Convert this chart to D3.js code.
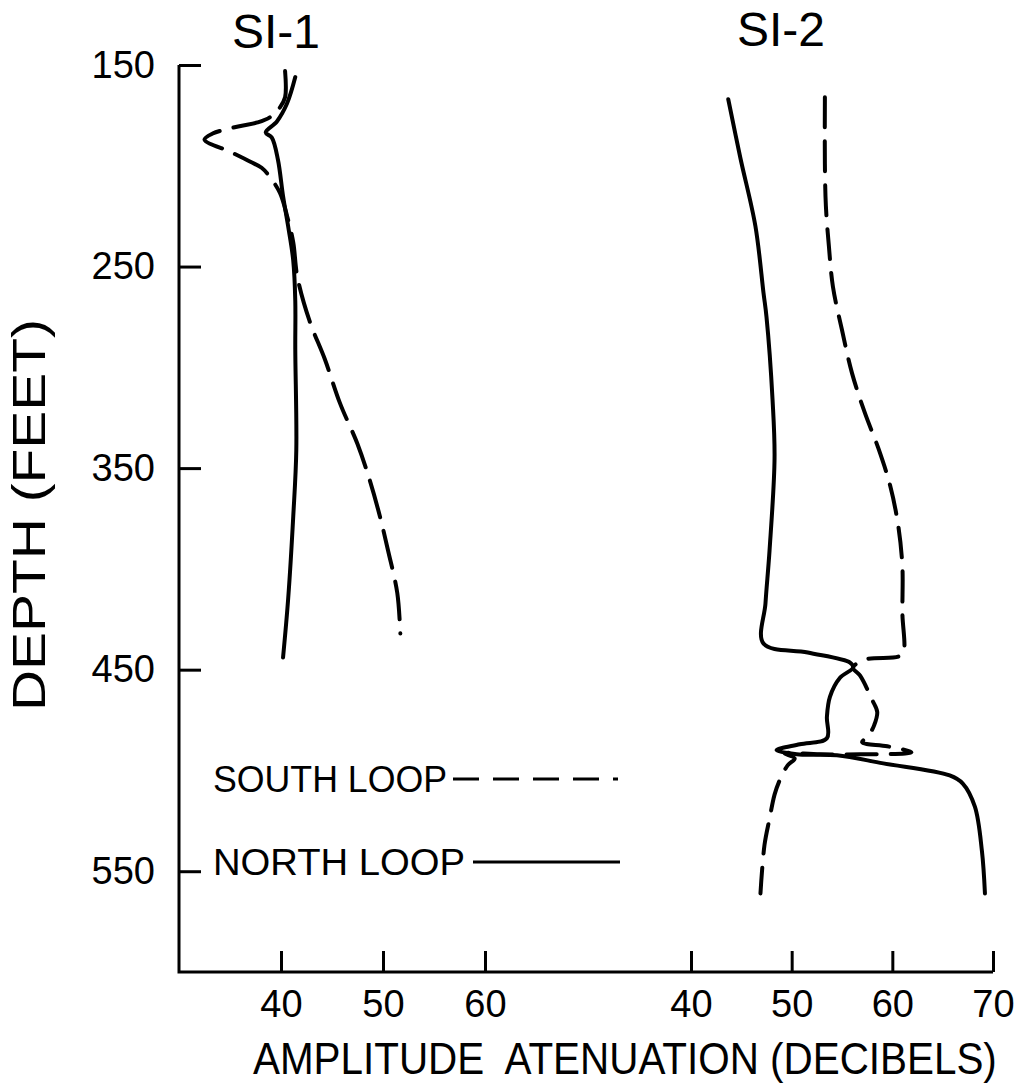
<!DOCTYPE html>
<html>
<head>
<meta charset="utf-8">
<script src="https://cdn.jsdelivr.net/npm/d3@7/dist/d3.min.js"></script>
<style>
  body { margin: 0; background: #fff; }
  text { font-family: "Liberation Sans", Arial, sans-serif; fill: #000; }
</style>
</head>
<body>
<div id="chart"></div>
<script>
// depth ticks (feet) and attenuation ticks (dB) for the two panels
var depthTicks = [150, 250, 350, 450, 550];
var si1Ticks = [40, 50, 60];
var si2Ticks = [40, 50, 60, 70];
var panelNames = ["SI-1", "SI-2"];

// [decibels, depth]
var si1North = [
  [41.4, 156], [40.6, 169], [39.6, 178], [38.5, 183.5], [39.1, 186], [39.7, 197],
  [40.2, 215], [40.7, 230], [41.2, 247], [41.4, 267], [41.4, 291], [41.5, 341],
  [41.2, 374], [40.7, 415], [40.2, 444]
];
var si1South = [
  [40.4, 153], [40.4, 166], [39.9, 171], [38.9, 176], [37.7, 178.5], [35.8, 180.5],
  [33.3, 184], [32.5, 187], [35.0, 193], [37.0, 198], [38.1, 201], [38.9, 205.5],
  [39.9, 213.5], [40.6, 225], [41.2, 238], [41.6, 255], [42.8, 277], [44.3, 296],
  [45.8, 318], [47.5, 338], [48.7, 356], [49.7, 374], [50.5, 391], [51.4, 412], [51.7, 432]
];
var si2North = [
  [43.7, 167], [44.9, 196], [46.4, 230], [47.2, 263], [47.5, 275], [48.1, 316],
  [48.3, 345], [47.8, 391], [47.4, 417], [47.2, 437], [51.6, 441.5], [55.8, 446.5],
  [56.1, 449], [54.8, 454], [53.8, 463.5], [53.5, 473.5], [53.5, 484], [50.8, 487],
  [48.5, 490], [50.5, 492], [54.5, 492.5], [59.1, 496.5], [65.7, 502.5], [67.0, 506.5],
  [68.2, 518], [68.9, 540], [69.2, 561]
];
var si2South = [
  [53.3, 166], [53.3, 199], [53.4, 220], [53.7, 240], [54.1, 260], [55.0, 281.5],
  [56.0, 303], [57.3, 323], [58.6, 340], [59.8, 359], [60.6, 379], [61.0, 399],
  [61.0, 422], [61.1, 441.5], [60.6, 443.5], [57.3, 445], [56.1, 449], [56.8, 453],
  [58.0, 465], [58.5, 471], [58.2, 477.5], [57.6, 483], [57.0, 486], [59.5, 488],
  [61.9, 491], [56.8, 492], [52.8, 492], [49.3, 491.5], [50.3, 494], [49.6, 497.5],
  [48.8, 505], [48.3, 512], [47.8, 524], [47.3, 537], [46.9, 561]
];

var width = 1021,
    height = 1089;

var svg = d3.select('#chart').append('svg')
    .attr('width', width)
    .attr('height', height);

var y = d3.scaleLinear().domain([150, 600]).range([65, 972]);
var x1 = d3.scaleLinear().domain([30, 60]).range([179, 485]);
var x2 = d3.scaleLinear().domain([40, 70]).range([691, 993]);

// frame: left axis and the shared bottom line
svg.append('path')
    .attr('d', 'M' + x1.range()[0] + ',' + y.range()[0] +
               'L' + x1.range()[0] + ',' + y.range()[1] +
               'L' + x2.range()[1] + ',' + y.range()[1])
    .attr('fill', 'none')
    .attr('stroke', '#000')
    .attr('stroke-width', 3);

var yAxis = svg.append('g')
    .attr('transform', 'translate(' + x1.range()[0] + ',0)')
    .call(d3.axisLeft(y).tickValues(depthTicks).tickSize(-22).tickSizeOuter(0).tickPadding(24));

function bottomAxis(scale, ticks)
{
  return svg.append('g')
    .attr('transform', 'translate(0,' + y.range()[1] + ')')
    .call(d3.axisBottom(scale).tickValues(ticks).tickSize(-21).tickSizeOuter(0).tickPadding(18));
}
var ax1 = bottomAxis(x1, si1Ticks);
var ax2 = bottomAxis(x2, si2Ticks);

[yAxis, ax1, ax2].forEach(function (g) {
  g.select('.domain').remove();
  g.selectAll('line').attr('stroke', '#000').attr('stroke-width', 3);
  g.selectAll('text').style('font-family', '"Liberation Sans", Arial, sans-serif')
    .style('font-size', '38px');
});

// curves
function drawSeries(data, xs, dash)
{
  var line = d3.line()
      .x(function (d) { return xs(d[0]); })
      .y(function (d) { return y(d[1]); })
      .curve(d3.curveCatmullRom.alpha(0.5));
  svg.append('path')
      .datum(data)
      .attr('d', line)
      .attr('fill', 'none')
      .attr('stroke', '#000')
      .attr('stroke-width', 4)
      .attr('stroke-linecap', 'round')
      .attr('stroke-linejoin', 'round')
      .attr('stroke-dasharray', dash);
}
drawSeries(si1North, x1, null);
drawSeries(si1South, x1, '38,14');
drawSeries(si2North, x2, null);
drawSeries(si2South, x2, '30,14');

// panel titles
svg.append('text').attr('x', 276).attr('y', 48)
    .attr('text-anchor', 'middle').style('font-size', '48px').text(panelNames[0]);
svg.append('text').attr('x', 781).attr('y', 46)
    .attr('text-anchor', 'middle').style('font-size', '48px').text(panelNames[1]);

// axis titles
svg.append('text')
    .attr('transform', 'translate(45,515) rotate(-90)')
    .attr('text-anchor', 'middle')
    .attr('textLength', 392)
    .attr('lengthAdjust', 'spacingAndGlyphs')
    .style('font-size', '47px')
    .text('DEPTH (FEET)');

// bottom title is squeezed horizontally to the width it has in the figure
var xTitle = svg.append('text')
    .style('font-size', '44px')
    .style('white-space', 'pre')
    .text('AMPLITUDE  ATENUATION (DECIBELS)');
var natural = xTitle.node().getComputedTextLength();
xTitle.attr('transform', 'translate(253,1074) scale(' + (744 / natural) + ',1)');

// legend
var legend = [
  { label: 'SOUTH LOOP', y: 792, len: 234, x0: 453, x1: 618, dash: '26,14' },
  { label: 'NORTH LOOP', y: 875, len: 252, x0: 473, x1: 620, dash: null }
];
legend.forEach(function (l) {
  svg.append('text').attr('x', 213).attr('y', l.y)
      .attr('textLength', l.len)
      .attr('lengthAdjust', 'spacingAndGlyphs')
      .style('font-size', '37px').text(l.label);
  svg.append('line')
      .attr('x1', l.x0).attr('x2', l.x1)
      .attr('y1', l.y - 13).attr('y2', l.y - 13)
      .attr('stroke', '#000').attr('stroke-width', 3)
      .attr('stroke-dasharray', l.dash);
});
</script>
</body>
</html>
